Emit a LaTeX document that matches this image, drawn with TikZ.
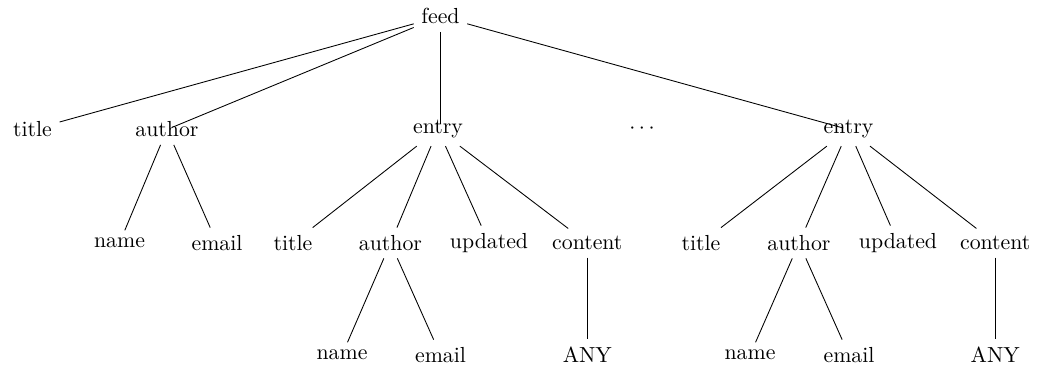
\documentclass[tikz,border=0pt]{standalone}
\begin{document}
\begin{tikzpicture}[x=0.4587pt,y=-0.4587pt,
  edge/.style={draw,line width=0.4pt},
  inner/.style={edge,shorten >=2.5pt}]
\useasboundingbox (0,0) rectangle (1037,368);

% root
\node (feed) at (440.5,16.4) {feed};

% first level
\node (t1) at (32.5,129.5) {title};
\node (a1) at (167,129.5) {author};
\node (e1) at (438,129.5) {entry};
\node (dd) at (642,128.5) {$\cdots$};
\node (e2) at (848.5,129.5) {entry};

% second level
\node (n1) at (119.5,243) {name};
\node (m1) at (217,243) {email};
\node (t2) at (293,243) {title};
\node (a2) at (390.5,243) {author};
\node (u1) at (489,243) {updated};
\node (c1) at (587.3,243) {content};
\node (t3) at (701,243) {title};
\node (a3) at (799,243) {author};
\node (u2) at (898,243) {updated};
\node (c2) at (995.2,243) {content};

% third level
\node (n2) at (342,355) {name};
\node (m2) at (440.5,355) {email};
\node (y1) at (587.3,355) {ANY};
\node (n3) at (750,355) {name};
\node (m3) at (849,355) {email};
\node (y2) at (995.2,355) {ANY};

% edges from the root
\draw[edge] (feed) -- (t1);
\draw[inner] (feed) -- (a1.center);
\draw[inner] (feed.south) -- (feed.south |- e1.center);
\draw[inner] (feed) -- (e2.center);

% feed author
\draw[edge] (a1) -- (n1);
\draw[edge] (a1) -- (m1);

% first entry
\draw[edge] (e1) -- (t2);
\draw[edge] (e1) -- (a2);
\draw[edge] (e1) -- (u1);
\draw[edge] (e1) -- (c1);
\draw[edge] (a2) -- (n2);
\draw[edge] (a2) -- (m2);
\draw[edge] (c1) -- (y1);

% second entry
\draw[edge] (e2) -- (t3);
\draw[edge] (e2) -- (a3);
\draw[edge] (e2) -- (u2);
\draw[edge] (e2) -- (c2);
\draw[edge] (a3) -- (n3);
\draw[edge] (a3) -- (m3);
\draw[edge] (c2) -- (y2);
\end{tikzpicture}
\end{document}
